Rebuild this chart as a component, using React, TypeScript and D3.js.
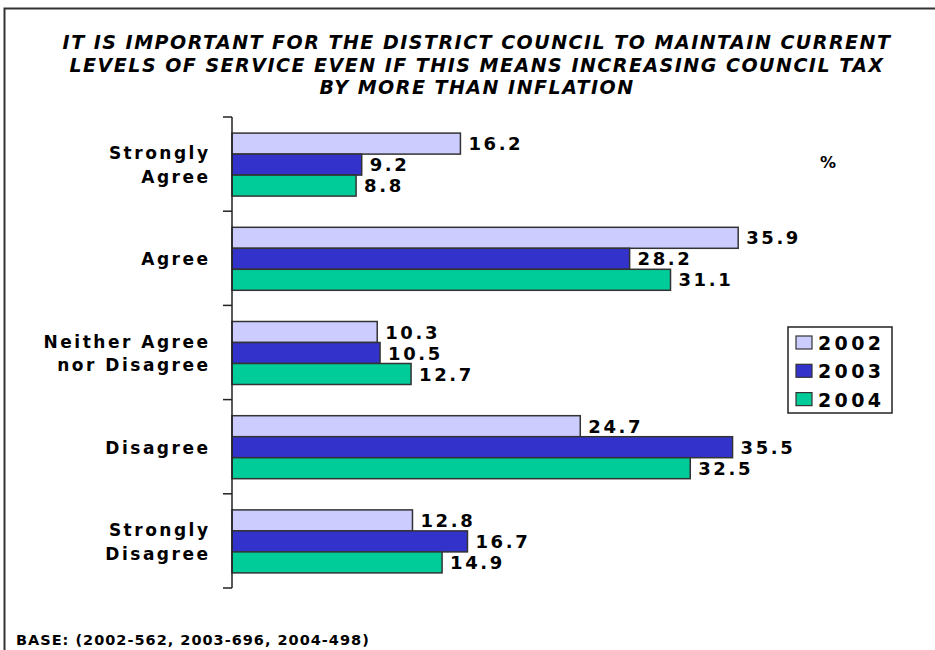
import {useEffect, useRef} from "react"

import * as d3 from "d3"

const categories = ["Strongly Agree", "Agree", "Neither Agree nor Disagree", "Disagree", "Strongly Disagree"]
const categoryLines = [["Strongly", "Agree"], ["Agree"], ["Neither Agree", "nor Disagree"], ["Disagree"], ["Strongly", "Disagree"]]
const years = ["2002", "2003", "2004"]
const values2002 = [16.2, 35.9, 10.3, 24.7, 12.8]
const values2003 = [9.2, 28.2, 10.5, 35.5, 16.7]
const values2004 = [8.8, 31.1, 12.7, 32.5, 14.9]
const colors = ["#ccccff", "#3333cc", "#00cc99"]
const titleLines = [
  "IT IS IMPORTANT FOR THE DISTRICT COUNCIL TO MAINTAIN CURRENT",
  "LEVELS OF SERVICE EVEN IF THIS MEANS INCREASING COUNCIL TAX",
  "BY MORE THAN INFLATION",
]
const baseNote = "BASE: (2002-562, 2003-696, 2004-498)"

const width = 935
const height = 650
const font = "'DejaVu Sans', Verdana, sans-serif"
const axisX = 232
const plot = {top: 117, bottom: 588}

const App = (): JSX.Element => {
  const ref = useRef<SVGSVGElement>(null)

  useEffect(() => {
    if (!ref.current) return
    const svg = d3.select(ref.current)
    svg.selectAll("*").remove()

    const series = [values2002, values2003, values2004]

    // outer frame, runs off the right and bottom of the picture
    svg
      .append("rect")
      .attr("x", 4.5)
      .attr("y", 8.5)
      .attr("width", width + 20)
      .attr("height", height + 20)
      .attr("fill", "white")
      .attr("stroke", "#333")
      .attr("stroke-width", 2)

    const title = svg
      .append("text")
      .attr("font-family", font)
      .attr("font-size", 19)
      .attr("font-weight", "bold")
      .attr("font-style", "italic")
      .attr("letter-spacing", 1.5)
      .attr("text-anchor", "middle")
      .attr("fill", "#000")
    titleLines.forEach((line, i) => {
      title
        .append("tspan")
        .attr("x", 477)
        .attr("y", 49 + i * 22.7)
        .text(line)
    })

    const xScale = d3.scaleLinear().domain([0, 40]).range([axisX, 796])
    const yScale = d3.scaleBand().domain(categories).range([plot.top, plot.bottom])
    const groupHeight = 63
    const yInner = d3.scaleBand().domain(years).range([0, groupHeight])
    const groupOffset = (yScale.bandwidth() - groupHeight) / 2 + 0.5

    const chart = svg.append("g")

    series.forEach((values, s) => {
      const year = years[s]
      chart
        .selectAll(null)
        .data(values)
        .join("rect")
        .attr("x", axisX)
        .attr("y", (_, i) => (yScale(categories[i]) ?? 0) + groupOffset + (yInner(year) ?? 0))
        .attr("width", (d) => xScale(d) - axisX)
        .attr("height", yInner.bandwidth())
        .attr("fill", colors[s])
        .attr("stroke", "#333")
        .attr("stroke-width", 1.5)

      chart
        .selectAll(null)
        .data(values)
        .join("text")
        .attr("x", (d) => xScale(d) + 8)
        .attr("y", (_, i) => (yScale(categories[i]) ?? 0) + groupOffset + (yInner(year) ?? 0) + yInner.bandwidth() / 2 + 6.5)
        .attr("font-family", font)
        .attr("font-size", 18)
        .attr("font-weight", "bold")
        .attr("letter-spacing", 2.6)
        .attr("fill", "#000")
        .text((d) => d.toFixed(1))
    })

    // category axis
    svg
      .append("line")
      .attr("x1", axisX)
      .attr("x2", axisX)
      .attr("y1", plot.top)
      .attr("y2", plot.bottom)
      .attr("stroke", "#222")
      .attr("stroke-width", 1.5)
    const tickYs = categories.map((c) => yScale(c) ?? 0).concat([plot.bottom])
    svg
      .selectAll(null)
      .data(tickYs)
      .join("line")
      .attr("x1", axisX - 9)
      .attr("x2", axisX)
      .attr("y1", (d) => d)
      .attr("y2", (d) => d)
      .attr("stroke", "#222")
      .attr("stroke-width", 1.5)

    categories.forEach((c, i) => {
      const lines = categoryLines[i]
      const center = (yScale(c) ?? 0) + yScale.bandwidth() / 2
      const label = svg
        .append("text")
        .attr("font-family", font)
        .attr("font-size", 17)
        .attr("font-weight", "bold")
        .attr("letter-spacing", 2.5)
        .attr("text-anchor", "end")
        .attr("fill", "#000")
      lines.forEach((line, j) => {
        label
          .append("tspan")
          .attr("x", 210.5)
          .attr("y", center + 7 + (j - (lines.length - 1) / 2) * 23.3)
          .text(line)
      })
    })

    svg
      .append("text")
      .attr("x", 820)
      .attr("y", 168)
      .attr("font-family", font)
      .attr("font-size", 16)
      .attr("font-weight", "bold")
      .attr("fill", "#000")
      .text("%")

    // legend
    const legend = svg.append("g").attr("transform", "translate(788,327)")
    legend
      .append("rect")
      .attr("width", 104)
      .attr("height", 86)
      .attr("fill", "white")
      .attr("stroke", "#222")
      .attr("stroke-width", 1.5)
    years.forEach((year, i) => {
      legend
        .append("rect")
        .attr("x", 8)
        .attr("y", 9 + i * 28.3)
        .attr("width", 16)
        .attr("height", 13)
        .attr("fill", colors[i])
        .attr("stroke", "#333")
        .attr("stroke-width", 1.2)
      legend
        .append("text")
        .attr("x", 30)
        .attr("y", 23 + i * 28.3)
        .attr("font-family", font)
        .attr("font-size", 19)
        .attr("font-weight", "bold")
        .attr("letter-spacing", 3.4)
        .attr("fill", "#000")
        .text(year)
    })

    svg
      .append("text")
      .attr("x", 16)
      .attr("y", 645)
      .attr("font-family", font)
      .attr("font-size", 14.5)
      .attr("font-weight", "bold")
      .attr("letter-spacing", 1)
      .attr("fill", "#000")
      .text(baseNote)
  }, [])

  return (
    <svg
      ref={ref}
      width={width}
      height={height}
      style={{position: "absolute", top: 0, left: 0, background: "white"}}
    />
  )
}

export default App
